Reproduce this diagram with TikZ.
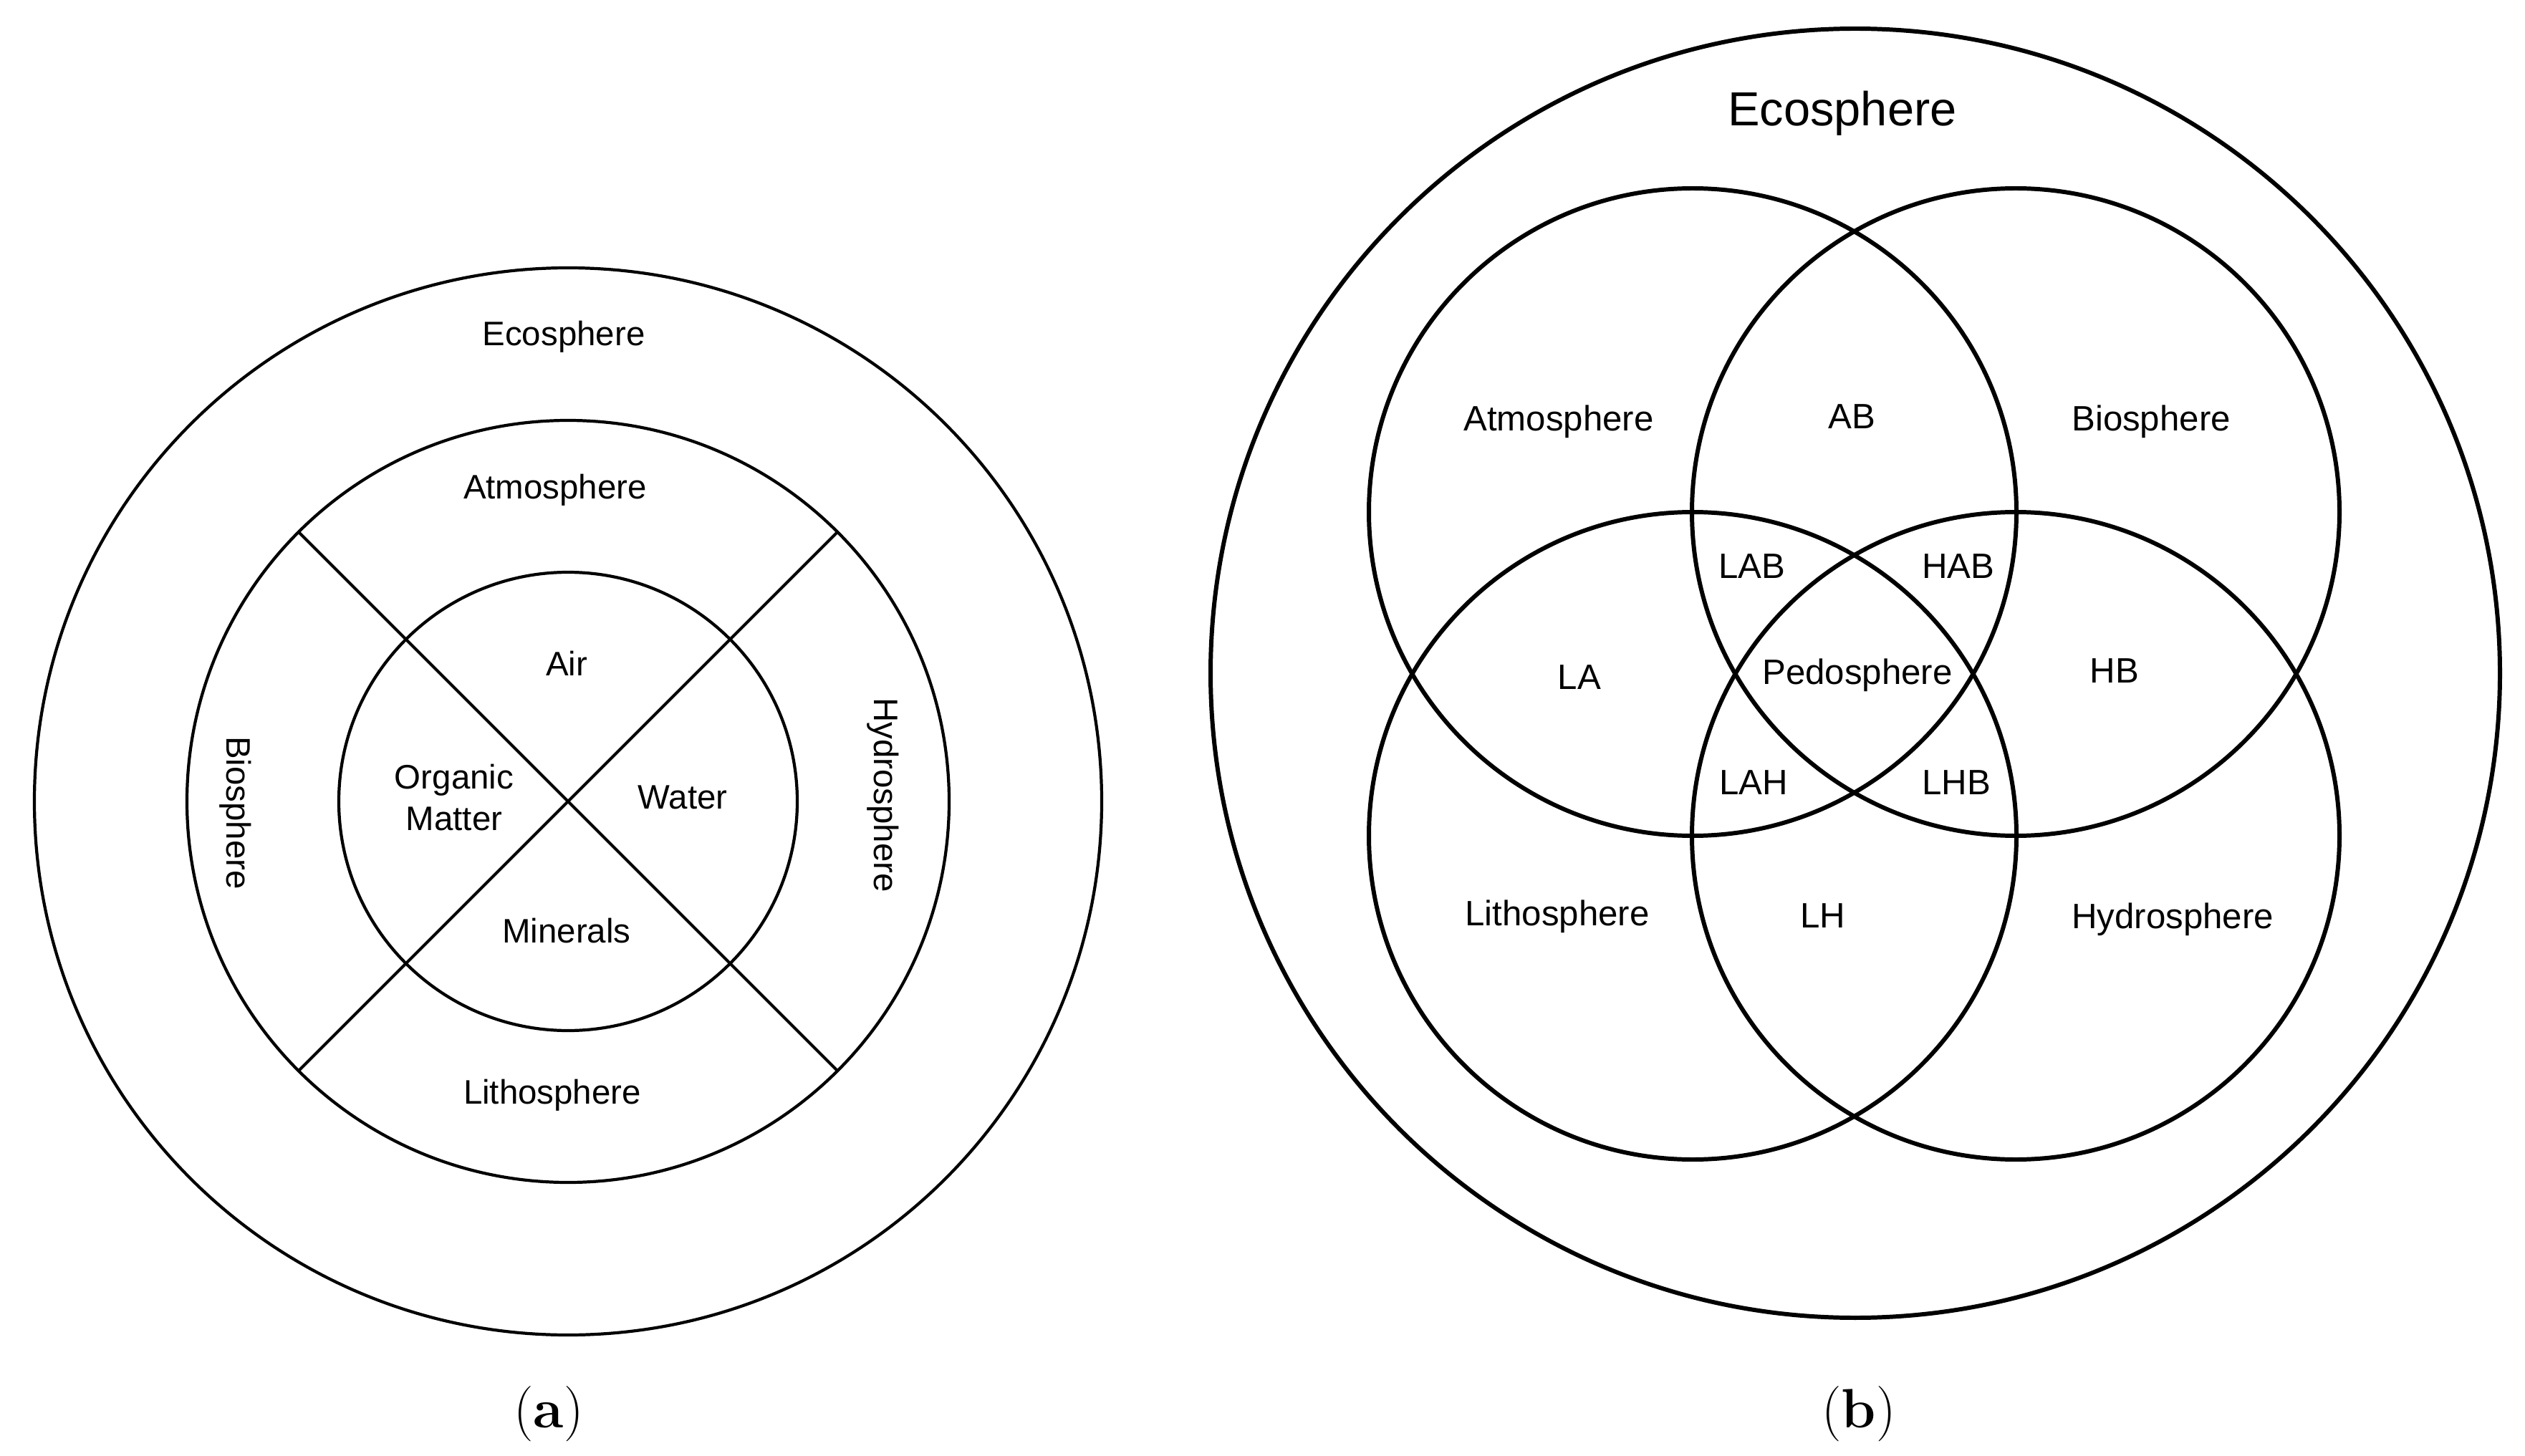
\documentclass[tikz,border=0pt]{standalone}
\usepackage{fontspec}
\newfontfamily\labelfont{Liberation Sans}
\usepackage{tikz}
\usetikzlibrary{positioning, calc}

\tikzset{
  lbl/.style={font=\labelfont\fontsize{13.5}{16.5}\selectfont, align=center, inner sep=0, text depth=0pt},
  vlbl/.style={lbl, rotate=-90},
  vlbl2/.style={font=\labelfont\fontsize{14}{17}\selectfont, inner sep=0, text depth=0pt},
  ring/.style={draw, circle, inner sep=0, outer sep=0, line width=1.2pt},
  sphere/.style={draw, circle, inner sep=0, outer sep=0, line width=1.7pt},
  caption/.style={font=\fontsize{22}{26}\selectfont, inner sep=0}
}

\begin{document}
\begin{tikzpicture}
\useasboundingbox (0,0) rectangle (35.25,-20.33);

%//left picture: rings round (lc)
\coordinate (lc) at (7.93,-11.19);
\node [ring, minimum size=14.9cm] (ecoring) at (lc) {};
\node [ring, minimum size=10.64cm] (shell) at (lc) {};
\node [ring, minimum size=6.4cm] (core) at (lc) {};

\draw [line width=1.2pt] (shell.135) -- (shell.-45);
\draw [line width=1.2pt] (shell.45) -- (shell.-135);

\foreach \name/\x/\y/\val in {ecoa/7.87/-4.65/Ecosphere, atma/7.75/-6.79/Atmosphere,
    air/7.91/-9.26/Air, organic/6.34/-11.13/{Organic\\Matter}, water/9.53/-11.13/Water,
    minerals/7.91/-12.99/Minerals, litha/7.71/-15.24/Lithosphere}
\node [lbl] (\name) at (\x,\y) {\val};

\node [vlbl] (bioa) at (3.34,-11.35) {Biosphere};
\node [vlbl] (hydroa) at (12.38,-11.10) {Hydrosphere};

\node [caption] (capa) at (7.66,-19.74) {(\textbf{a})};

%//right picture: four spheres inside the ecosphere
\node [sphere, minimum size=18cm] (ecosph) at (25.90,-9.40) {};

\foreach \name/\x/\y in {atmos/23.63/-7.15, bios/28.14/-7.15, lithos/23.63/-11.67, hydros/28.14/-11.67}
\node [sphere, minimum size=9.04cm] (\name) at (\x,\y) {};

\node [font=\labelfont\fontsize{19}{23}\selectfont, inner sep=0, text depth=0pt] (ecob) at (25.72,-1.51) {Ecosphere};

\foreach \name/\x/\y/\val in {atmb/21.76/-5.84/Atmosphere, ab/25.85/-5.82/AB, biob/30.03/-5.84/Biosphere,
    lab/24.46/-7.91/LAB, hab/27.34/-7.91/HAB,
    la/22.05/-9.46/LA, pedo/25.93/-9.38/Pedosphere, hb/29.52/-9.37/HB,
    lah/24.48/-10.93/LAH, lhb/27.31/-10.93/LHB,
    lithb/21.74/-12.75/Lithosphere, lh/25.45/-12.79/LH, hydrob/30.33/-12.79/Hydrosphere}
\node [vlbl2] (\name) at (\x,\y) {\val};

\node [caption] (capb) at (25.95,-19.74) {(\textbf{b})};
\end{tikzpicture}
\end{document}
